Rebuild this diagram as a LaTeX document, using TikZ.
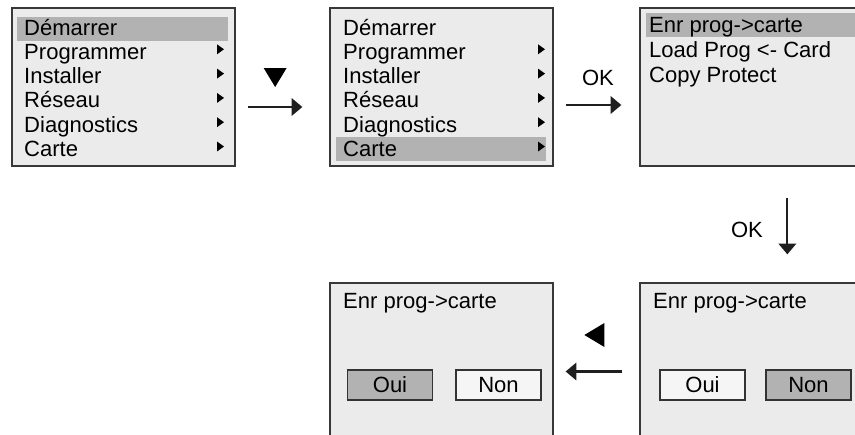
\documentclass[tikz,border=0pt]{standalone}
\usepackage{fontspec}
\setmainfont{Liberation Sans}
\usetikzlibrary{arrows.meta,positioning,calc}

\begin{document}
\begin{tikzpicture}[
    x=0.03cm, y=-0.03cm,
    scr/.style={draw=black!78, fill=black!8, line width=1.1pt, inner sep=0pt},
    hl/.style={fill=black!30},
    item/.style={anchor=base west, inner sep=0pt, font=\fontsize{18.8}{20}\selectfont},
    btn/.style={draw=black!80, line width=1pt, minimum width=2.55cm, minimum height=0.9cm, inner sep=0pt, font=\fontsize{18.8}{20}\selectfont},
    arr/.style={-{Triangle[length=0.32cm,width=0.52cm]}, line width=1.9pt, black!88},
    lbl/.style={font=\fontsize{18.8}{20}\selectfont}
]
\useasboundingbox (0,0) rectangle (855,434);
\clip (0,0) rectangle (855,434);

% screens
\node[scr, minimum width=6.69cm, minimum height=4.74cm] (s1) at (123.5,87) {};
\node[scr, minimum width=6.69cm, minimum height=4.74cm] (s2) at (441.5,87) {};
\node[scr, minimum width=7.2cm, minimum height=4.74cm] (s3) at (760,87) {};
\node[scr, minimum width=7.2cm, minimum height=5.31cm] (s4) at (760,371.5) {};
\node[scr, minimum width=6.69cm, minimum height=5.31cm] (s5) at (441.5,371.5) {};

% selection bars
\fill[hl] (17,17) rectangle (228,41);
\fill[hl] (336,137) rectangle (546,161);
\fill[hl] (646,13) rectangle (870,37);

% main menu, twice
\foreach \t [count=\i from 0] in {Démarrer,Programmer,Installer,Réseau,Diagnostics,Carte} {
  \node[item] (a\i) at (24,35+24.3*\i) {\t};
  \node[item] (b\i) at (343,35+24.3*\i) {\t};
}
\foreach \i in {1,...,5} {
  \fill (217,25+24.3*\i-5) -- (217,25+24.3*\i+5) -- (224,25+24.3*\i) -- cycle;
  \fill (538,25+24.3*\i-5) -- (538,25+24.3*\i+5) -- (545,25+24.3*\i) -- cycle;
}

% card menu
\node[item] (c0) at (649,32) {Enr prog->carte};
\node[item] (c1) at (649,57) {Load Prog <- Card};
\node[item] (c2) at (649,82) {Copy Protect};

% confirm screens
\node[item] (t4) at (653,308) {Enr prog->carte};
\node[btn, fill=black!4] (oui4) at (702.5,385) {Oui};
\node[btn, fill=black!30] (non4) at (808.5,385) {Non};

\node[item] (t5) at (343,308) {Enr prog->carte};
\node[btn, fill=black!30] (oui5) at (390,385) {Oui};
\node[btn, fill=black!4] (non5) at (498.5,385) {Non};

% transitions
\draw[arr] ($(s1.east)+(12,20)$) -- ($(s2.west)+(-27,20)$);
\fill ($(s1.east)+(28,-19)$) -- ++(23,0) -- ++(-11.5,19) -- cycle;

\draw[arr] ($(s2.east)+(12,18)$) -- ($(s3.west)+(-18,18)$);
\node[lbl] (ok1) at (598,78) {OK};

\draw[arr] ($(s3.south west)+(148,31)$) -- ($(s4.north west)+(148,-28)$);
\node[lbl] (ok2) at (747,230) {OK};

\draw[arr] ($(s4.west)+(-17,0)$) -- ($(s5.east)+(12,0)$);
\fill ($(s4.west)+(-35,-48.5)$) -- ++(0,24) -- ++(-20,-12) -- cycle;
\end{tikzpicture}
\end{document}
